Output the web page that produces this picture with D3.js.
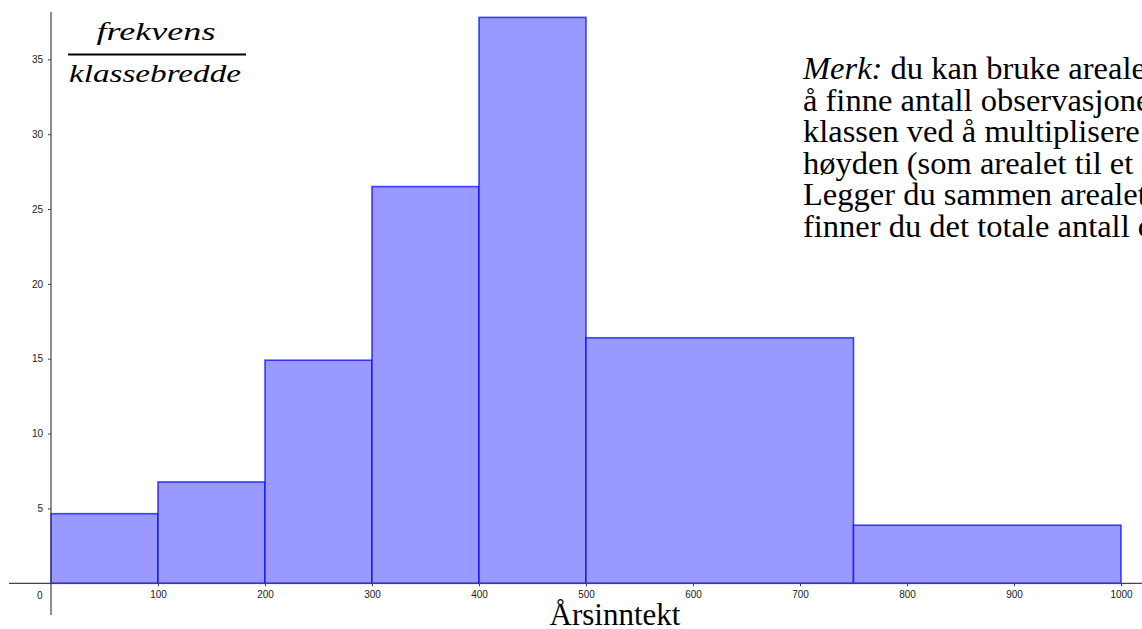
<!DOCTYPE html>
<html>
<head>
<meta charset="utf-8">
<script src="https://cdnjs.cloudflare.com/ajax/libs/d3/7.8.5/d3.min.js"></script>
<style>
  html, body { margin: 0; padding: 0; background: #fff; }
  svg { display: block; }
  .tick text { font-family: "Liberation Sans", Arial, sans-serif; font-size: 10px; fill: #222; }
</style>
</head>
<body>
<svg width="1142" height="629"></svg>
<script>
// klasser (årsinntekt) og høyde = frekvens / klassebredde
var classStart = [0, 100, 200, 300, 400, 500, 750];
var classEnd   = [100, 200, 300, 400, 500, 750, 1000];
var density    = [4.65, 6.77, 14.9, 26.5, 37.8, 16.4, 3.88];

var xTicks = [100, 200, 300, 400, 500, 600, 700, 800, 900, 1000];
var yTicks = [5, 10, 15, 20, 25, 30, 35];

var noteLines = [
	["Merk:", " du kan bruke arealet av hver søyle til"],
	["", "å finne antall observasjoner i"],
	["", "klassen ved å multiplisere bredden med"],
	["", "høyden (som arealet til et rektangel)."],
	["", "Legger du sammen arealet av alle søylene,"],
	["", "finner du det totale antall observasjoner."]
];

var svg = d3.select("svg");

var x = d3.scaleLinear().domain([0, 1000]).range([51, 1121]);
var y = d3.scaleLinear().domain([0, 35]).range([583.3, 59.3]);

// søyler
var bars = classStart.map(function(s, i){
	return {a: s, b: classEnd[i], h: density[i]};
});

svg.append("g")
	.attr("class", "bars")
	.selectAll("rect")
	.data(bars)
	.enter()
	.append("rect")
	.attr("x", function(d){ return x(d.a); })
	.attr("y", function(d){ return y(d.h); })
	.attr("width", function(d){ return x(d.b) - x(d.a); })
	.attr("height", function(d){ return y(0) - y(d.h); })
	.attr("fill", "#9999ff")
	.attr("stroke", "#0000ff")
	.attr("stroke-opacity", 0.7)
	.attr("stroke-width", 1.6);

// akser
var axisColor = "#444";

svg.append("line")
	.attr("x1", 9).attr("x2", 1142)
	.attr("y1", y(0)).attr("y2", y(0))
	.attr("stroke", axisColor).attr("stroke-width", 1.2);

svg.append("line")
	.attr("x1", x(0)).attr("x2", x(0))
	.attr("y1", 12).attr("y2", 615)
	.attr("stroke", axisColor).attr("stroke-width", 1.2);

var xAxis = svg.append("g")
	.attr("transform", "translate(0," + y(0) + ")")
	.call(d3.axisBottom(x).tickValues(xTicks).tickSize(3).tickPadding(5).tickFormat(d3.format("d")));
xAxis.select(".domain").remove();
xAxis.selectAll(".tick line").attr("stroke", axisColor);

var yAxis = svg.append("g")
	.attr("transform", "translate(" + x(0) + ",0)")
	.call(d3.axisLeft(y).tickValues(yTicks).tickSize(3).tickPadding(5).tickFormat(d3.format("d")));
yAxis.select(".domain").remove();
yAxis.selectAll(".tick line").attr("stroke", axisColor);

// origo
svg.append("text")
	.attr("x", 42.5)
	.attr("y", y(0) + 16)
	.attr("text-anchor", "end")
	.style("font-family", "Liberation Sans, Arial, sans-serif")
	.style("font-size", "10px")
	.style("fill", "#222")
	.text("0");

// aksetitler
var frac = svg.append("g").attr("class", "ylabel");
frac.append("text")
	.attr("x", 156).attr("y", 40)
	.attr("text-anchor", "middle")
	.attr("textLength", 119).attr("lengthAdjust", "spacingAndGlyphs")
	.style("font-family", "Liberation Serif, serif")
	.style("font-style", "italic")
	.style("font-size", "25px")
	.text("frekvens");
frac.append("line")
	.attr("x1", 68).attr("x2", 246)
	.attr("y1", 54.5).attr("y2", 54.5)
	.attr("stroke", "#000").attr("stroke-width", 2);
frac.append("text")
	.attr("x", 155).attr("y", 82)
	.attr("text-anchor", "middle")
	.attr("textLength", 172).attr("lengthAdjust", "spacingAndGlyphs")
	.style("font-family", "Liberation Serif, serif")
	.style("font-style", "italic")
	.style("font-size", "25px")
	.text("klassebredde");

svg.append("text")
	.attr("x", 615).attr("y", 625)
	.attr("text-anchor", "middle")
	.style("font-family", "Liberation Serif, Times New Roman, serif")
	.style("font-size", "31px")
	.style("fill", "#000")
	.text("Årsinntekt");

// merknad
var note = svg.append("text")
	.attr("class", "note")
	.style("font-family", "Liberation Serif, Times New Roman, serif")
	.style("font-size", "32.5px")
	.style("fill", "#000");

noteLines.forEach(function(l, i){
	var row = note.append("tspan")
		.attr("x", 803)
		.attr("y", 79 + i * 31.5);
	if (l[0]) {
		row.append("tspan").style("font-style", "italic").text(l[0]);
	}
	row.append("tspan").text(l[1]);
});
</script>
</body>
</html>
